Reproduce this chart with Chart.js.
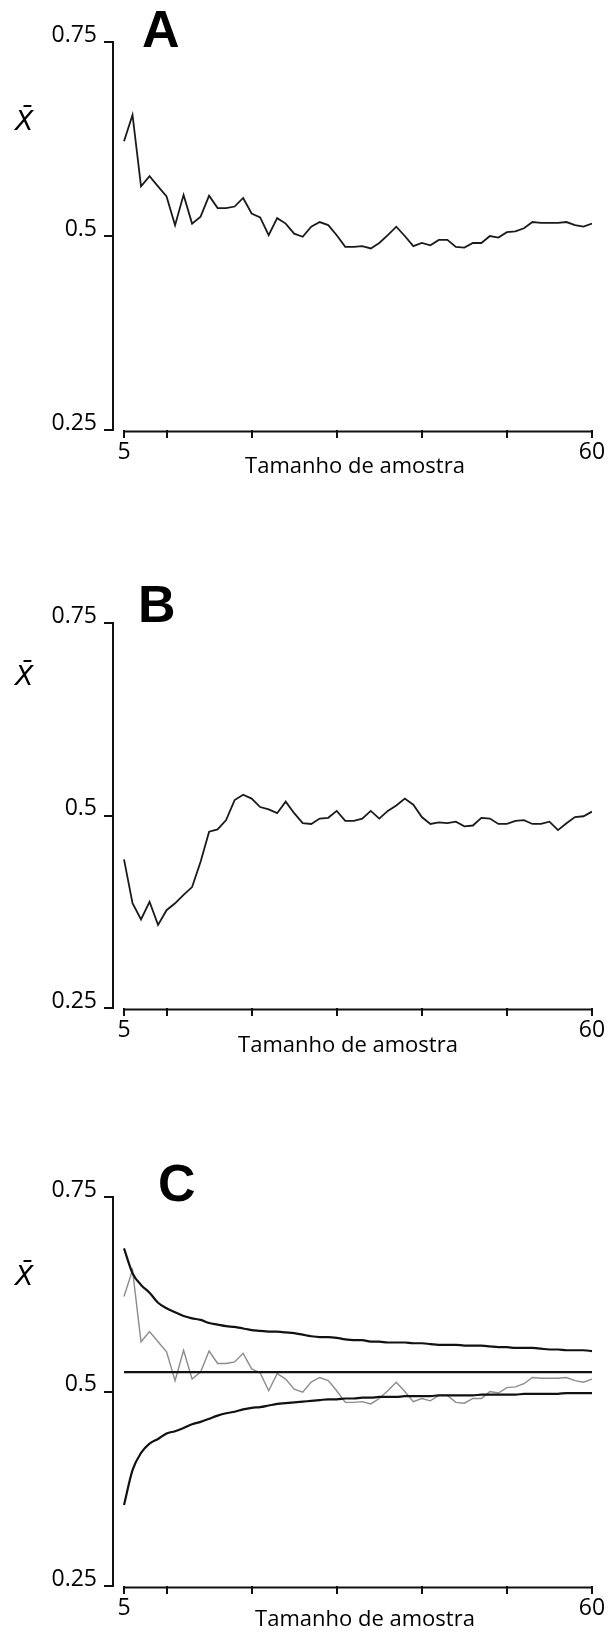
<!DOCTYPE html>
<html>
<head>
<meta charset="utf-8">
<title>Média amostral e tamanho de amostra</title>
<script src="https://cdn.jsdelivr.net/npm/chart.js@4.4.0/dist/chart.umd.min.js"></script>
<style>
  body { margin: 0; background: #fff; }
  #page { position: relative; width: 610px; height: 1633px; overflow: hidden; }
  canvas { position: absolute; left: 0; }
</style>
</head>
<body>
<div id="page">
  <canvas id="chartA" width="610" height="490" style="top:0px"></canvas>
  <canvas id="chartB" width="610" height="528" style="top:540px"></canvas>
  <canvas id="chartC" width="610" height="513" style="top:1120px"></canvas>
</div>
<script>
// sample size n on the x axis
const sampleSizes = [
  5, 6, 7, 8, 9, 10, 11, 12, 13, 14, 15, 16, 17, 18, 19, 20,
  21, 22, 23, 24, 25, 26, 27, 28, 29, 30, 31, 32, 33, 34, 35, 36, 37, 38, 39, 40,
  41, 42, 43, 44, 45, 46, 47, 48, 49, 50, 51, 52, 53, 54, 55, 56, 57, 58, 59, 60
];

// running sample mean, panel A (also the grey line of panel C)
const meanA = [
  0.622, 0.656, 0.564, 0.577, 0.564, 0.551, 0.514, 0.553, 0.516, 0.525, 0.552, 0.536,
  0.536, 0.538, 0.549, 0.529, 0.524, 0.501, 0.523, 0.516, 0.503, 0.499, 0.512, 0.518,
  0.514, 0.501, 0.486, 0.486, 0.487, 0.484, 0.491, 0.501, 0.512, 0.500, 0.487, 0.491,
  0.488, 0.495, 0.495, 0.486, 0.485, 0.491, 0.491, 0.500, 0.498, 0.505, 0.506, 0.510,
  0.518, 0.517, 0.517, 0.517, 0.518, 0.514, 0.512, 0.516
];

// running sample mean, panel B
const meanB = [
  0.443, 0.386, 0.365, 0.388, 0.358, 0.377, 0.386, 0.397, 0.407, 0.440, 0.479, 0.482,
  0.494, 0.520, 0.527, 0.522, 0.511, 0.508, 0.503, 0.518, 0.503, 0.490, 0.489, 0.496,
  0.497, 0.506, 0.493, 0.493, 0.496, 0.506, 0.496, 0.506, 0.513, 0.522, 0.514, 0.498,
  0.489, 0.491, 0.490, 0.492, 0.486, 0.487, 0.497, 0.496, 0.489, 0.489, 0.493, 0.494,
  0.489, 0.489, 0.492, 0.481, 0.490, 0.498, 0.499, 0.505
];

// panel C: upper and lower limits
const upperC = [
  0.684, 0.652, 0.637, 0.627, 0.614, 0.607, 0.602, 0.597, 0.594, 0.592, 0.588, 0.586,
  0.584, 0.583, 0.581, 0.579, 0.578, 0.577, 0.577, 0.576, 0.575, 0.573, 0.571, 0.570,
  0.570, 0.569, 0.567, 0.566, 0.566, 0.564, 0.564, 0.563, 0.563, 0.563, 0.562, 0.562,
  0.561, 0.560, 0.560, 0.560, 0.559, 0.559, 0.559, 0.558, 0.557, 0.557, 0.556, 0.556,
  0.556, 0.555, 0.554, 0.554, 0.553, 0.553, 0.553, 0.552
];
const lowerC = [
  0.354, 0.399, 0.421, 0.433, 0.439, 0.446, 0.449, 0.453, 0.458, 0.461, 0.465, 0.469,
  0.472, 0.474, 0.477, 0.479, 0.480, 0.482, 0.484, 0.485, 0.486, 0.487, 0.488, 0.489,
  0.490, 0.490, 0.491, 0.491, 0.492, 0.492, 0.493, 0.493, 0.493, 0.494, 0.494, 0.494,
  0.494, 0.495, 0.495, 0.495, 0.495, 0.495, 0.496, 0.496, 0.496, 0.496, 0.496, 0.497,
  0.497, 0.497, 0.497, 0.497, 0.498, 0.498, 0.498, 0.498
];
const centerLevel = 0.525;

const yTickValues = [0.25, 0.5, 0.75];
const yTickLabels = ['0.25', '0.5', '0.75'];
const xTickValues = [5, 10, 20, 30, 40, 50, 60];
const xTickLabels = ['5', '', '', '', '', '', '60'];
const xAxisTitle = 'Tamanho de amostra';
const yAxisTitle = 'X\u0304';

const labelFont = '"Open Sans", "DejaVu Sans", sans-serif';

function points(values) {
  return values.map((v, i) => ({ x: sampleSizes[i], y: v }));
}

// letter, x-bar symbol, axis title and the bottom axis line (from n=5 to n=60)
const panelText = {
  id: 'panelText',
  afterDraw(chart, args, o) {
    const ctx = chart.ctx;
    const xs = chart.scales.x;
    const bottom = chart.chartArea.bottom;
    ctx.save();
    ctx.strokeStyle = '#111';
    ctx.lineWidth = 2;
    ctx.beginPath();
    ctx.moveTo(xs.getPixelForValue(sampleSizes[0]), bottom + 1.5);
    ctx.lineTo(xs.getPixelForValue(sampleSizes[sampleSizes.length - 1]) + 1, bottom + 1.5);
    ctx.stroke();

    ctx.fillStyle = '#000';
    ctx.textBaseline = 'alphabetic';
    ctx.font = 'bold 52px "Liberation Sans", Arial, sans-serif';
    ctx.fillText(o.letter, o.letterX, o.letterY);
    ctx.font = 'italic 27px "DejaVu Sans", sans-serif';
    ctx.fillText(yAxisTitle, 15, o.xbarY);
    ctx.font = '22px ' + labelFont;
    ctx.textAlign = 'center';
    ctx.fillText(xAxisTitle, o.titleX, bottom + o.titleDy);
    ctx.restore();
  }
};

function makePanel(id, datasets, opts) {
  return new Chart(document.getElementById(id), {
    type: 'line',
    data: { datasets: datasets },
    plugins: [panelText],
    options: {
      responsive: false,
      animation: false,
      devicePixelRatio: 1,
      layout: { padding: { top: opts.padTop, right: 18, left: 0, bottom: 0 } },
      elements: { point: { radius: 0 }, line: { tension: 0 } },
      plugins: {
        legend: { display: false },
        tooltip: { enabled: false },
        panelText: opts.text
      },
      scales: {
        x: {
          type: 'linear',
          min: 3.706,
          max: 60,
          afterBuildTicks: s => { s.ticks = xTickValues.map(v => ({ value: v })); },
          afterFit: s => { s.height = opts.xAxisHeight; },
          border: { display: false },
          grid: { drawOnChartArea: false, drawTicks: true, tickLength: 8, color: '#111', lineWidth: 2 },
          ticks: {
            autoSkip: false, maxRotation: 0, padding: 1, color: '#000',
            font: { family: labelFont, size: 23 },
            callback: (v, i) => xTickLabels[i]
          }
        },
        y: {
          type: 'linear',
          min: 0.25,
          max: 0.75,
          afterBuildTicks: s => { s.ticks = yTickValues.map(v => ({ value: v })); },
          afterFit: s => { s.width = 113; },
          border: { display: true, color: '#111', width: 2 },
          grid: { drawOnChartArea: false, drawTicks: true, tickLength: 9, color: '#111', lineWidth: 2 },
          ticks: {
            padding: 7, labelOffset: -7, color: '#000',
            font: { family: labelFont, size: 23 },
            callback: (v, i) => yTickLabels[i]
          }
        }
      }
    }
  });
}

makePanel('chartA', [
  { data: points(meanA), borderColor: '#1a1a1a', borderWidth: 1.8 }
], { padTop: 42, xAxisHeight: 60,
     text: { letter: 'A', letterX: 142, letterY: 47, xbarY: 130, titleX: 355, titleDy: 43 } });

makePanel('chartB', [
  { data: points(meanB), borderColor: '#1a1a1a', borderWidth: 1.8 }
], { padTop: 83, xAxisHeight: 60,
     text: { letter: 'B', letterX: 138, letterY: 82, xbarY: 145, titleX: 348, titleDy: 44 } });

makePanel('chartC', [
  { data: points(upperC), borderColor: '#111', borderWidth: 2.2, cubicInterpolationMode: 'monotone' },
  { data: points(lowerC), borderColor: '#111', borderWidth: 2.2, cubicInterpolationMode: 'monotone' },
  { data: [{ x: sampleSizes[0], y: centerLevel }, { x: sampleSizes[sampleSizes.length - 1], y: centerLevel }],
    borderColor: '#111', borderWidth: 2.2 },
  { data: points(meanA), borderColor: '#8c8c8c', borderWidth: 1.4 }
], { padTop: 77, xAxisHeight: 47,
     text: { letter: 'C', letterX: 158, letterY: 81, xbarY: 165, titleX: 365, titleDy: 40 } });
</script>
</body>
</html>
